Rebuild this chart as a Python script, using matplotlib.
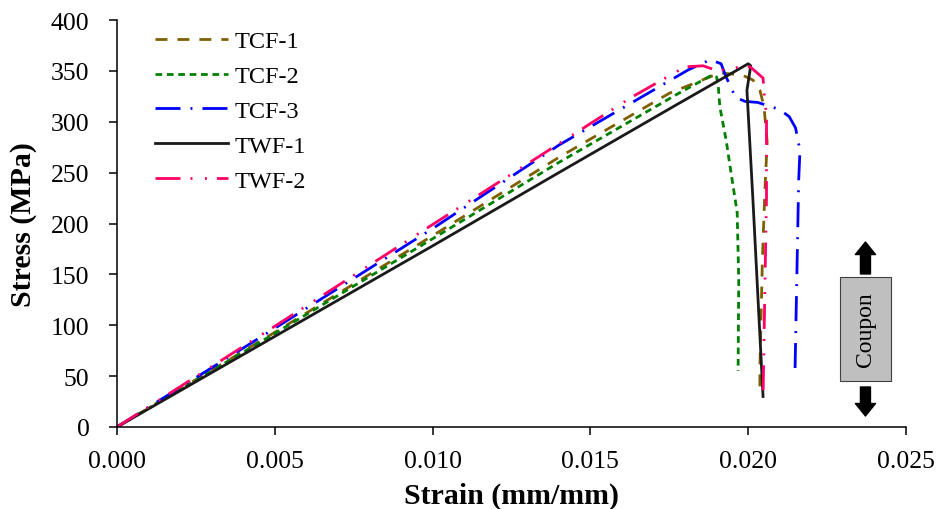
import matplotlib
matplotlib.use("Agg")
import matplotlib.pyplot as plt
from matplotlib.patches import Rectangle

plt.rcParams['font.family'] = ['Liberation Serif', 'DejaVu Serif']

# ---- data ----
tcf1_strain = [0, 0.005, 0.010, 0.014, 0.0175, 0.0191, 0.0198, 0.02015, 0.02037, 0.0205, 0.0206, 0.02053, 0.02045, 0.02037, 0.02037]
tcf1_stress = [0, 93, 188, 265, 328, 348, 346, 341, 331, 315, 280, 233, 165, 57, 32]

tcf2_strain = [0, 0.005, 0.010, 0.014, 0.0178, 0.0188, 0.0190, 0.01905, 0.0191, 0.0193, 0.01949, 0.01965, 0.0197, 0.01968]
tcf2_stress = [0, 92, 185, 260, 328, 345, 344, 336, 315, 282, 243, 211, 145, 55]

tcf3_strain = [0, 0.005, 0.010, 0.014, 0.0181, 0.0188, 0.01914, 0.0193, 0.0196, 0.0199, 0.0203, 0.0210, 0.0213, 0.0215, 0.02164, 0.0216, 0.02148]
tcf3_stress = [0, 97, 195, 277, 351, 361, 357, 344, 324, 320, 319, 312, 305, 294, 272, 243, 50]

twf1_strain = [0, 0.005, 0.010, 0.014, 0.0178, 0.0200, 0.02008, 0.01996, 0.02015, 0.02047]
twf1_stress = [0, 89, 178, 250, 318, 357, 355, 331, 223, 30]

twf2_strain = [0, 0.005, 0.010, 0.0163, 0.0180, 0.01857, 0.01904, 0.01948, 0.02006, 0.02047, 0.0205, 0.02058, 0.02058, 0.02053, 0.02047]
twf2_stress = [0, 99, 199, 324, 354, 355, 350, 353, 354, 343, 330, 305, 226, 140, 29]

labels = ['TCF-1', 'TCF-2', 'TCF-3', 'TWF-1', 'TWF-2']
colors = ['#7F6000', '#008000', '#0000FF', '#1A1A1A', '#FF0066']

x_ticks = [0.000, 0.005, 0.010, 0.015, 0.020, 0.025]
y_ticks = [0, 50, 100, 150, 200, 250, 300, 350, 400]

series = [(tcf1_strain, tcf1_stress), (tcf2_strain, tcf2_stress), (tcf3_strain, tcf3_stress),
          (twf1_strain, twf1_stress), (twf2_strain, twf2_stress)]
styles = [(0, (4.3, 3.6)),
          (0, (2.4, 1.7)),
          (0, (9, 3.6, 0.7, 3.6)),
          '-',
          (0, (9, 3.6, 0.7, 4.5, 0.7, 3.6))]

fig = plt.figure(figsize=(9.38, 5.10), dpi=100)
ax = fig.add_axes([0.1247, 0.1608, 0.8412, 0.7980])

for (xs, ys), lab, col, ls in zip(series, labels, colors, styles):
    ax.plot(xs, ys, color=col, linestyle=ls, linewidth=2.0, label=lab)

ax.set_xlim(0, 0.025)
ax.set_ylim(0, 400)
ax.set_xticks(x_ticks)
ax.set_xticklabels([f"{v:.3f}" for v in x_ticks])
ax.set_yticks(y_ticks)
ax.set_yticklabels([str(v) for v in y_ticks])
ax.tick_params(axis='both', labelsize=18.5, length=5.8, width=1.1, direction='out', color='black')
ax.tick_params(axis='x', pad=11)
ax.tick_params(axis='y', pad=14)
for s in ['top', 'right']:
    ax.spines[s].set_visible(False)
for s in ['left', 'bottom']:
    ax.spines[s].set_linewidth(1.1)
    ax.spines[s].set_color('black')

ax.set_xlabel('Strain (mm/mm)', fontsize=21.5, fontweight='bold', labelpad=7)
ax.set_ylabel('Stress (MPa)', fontsize=21.5, fontweight='bold', labelpad=10)

leg = ax.legend(loc='upper left', bbox_to_anchor=(0.048, 0.975), frameon=False,
                fontsize=17.5, handlelength=3.0, handletextpad=0.3,
                labelspacing=0.53, borderpad=0, borderaxespad=0)

# Coupon schematic
ax.add_patch(Rectangle((0.9163, 0.113), 0.0646, 0.2555, transform=ax.transAxes,
                       facecolor='#BFBFBF', edgecolor='#404040', linewidth=0.8, clip_on=False))
ax.text(0.9486, 0.2408, 'Coupon', transform=ax.transAxes, rotation=90,
        ha='center', va='center', fontsize=17)
arrow_props = dict(arrowstyle='simple,head_width=1.45,head_length=0.9,tail_width=0.72',
                   color='black', mutation_scale=10, shrinkA=0, shrinkB=0)
ax.annotate('', xy=(0.9486, 0.4545), xytext=(0.9486, 0.376), xycoords='axes fraction',
            arrowprops=arrow_props)
ax.annotate('', xy=(0.9486, 0.027), xytext=(0.9486, 0.0983), xycoords='axes fraction',
            arrowprops=arrow_props)

fig.savefig('out.png', dpi=100)
